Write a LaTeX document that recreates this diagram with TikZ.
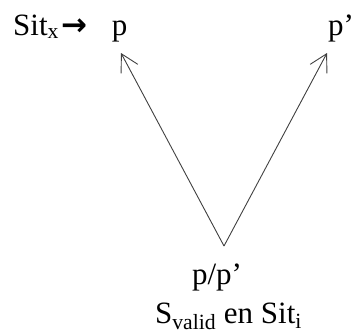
\documentclass[tikz,border=0pt]{standalone}
\usepackage{fontspec}
\setmainfont{Liberation Serif}
\newfontfamily\arrowfont{DejaVu Sans}
\usepackage{tikz}
\usetikzlibrary{arrows.meta,positioning,calc}

\begin{document}
\begin{tikzpicture}[
  x=1pt, y=1pt,
  lbl/.style={inner sep=0pt, font=\fontsize{31}{37}\selectfont},
  vedge/.style={draw=black!75, line width=0.9pt,
    -{Straight Barb[length=17pt, width=19pt, line width=0.9pt]}}
]
\useasboundingbox (0,0) rectangle (355,333);
\node[lbl, anchor=base west] (sitx) at (13,298)
  {Sit\textsubscript{x}\hspace{2pt}{\arrowfont\bfseries →}\hspace{25pt}p};
\node[lbl, anchor=base west] (pp) at (328,298) {p’};
\node[lbl, anchor=base] (ppp) at (217,49) {p/p’};
\node[lbl, anchor=base] (sval) at (228.5,10) {S\textsubscript{valid} en Sit\textsubscript{i}};
\coordinate (apex) at (224,87);
\coordinate (tipl) at (121,280);
\coordinate (tipr) at (327,280);
\draw[vedge] (apex) -- (tipl);
\draw[vedge] (apex) -- (tipr);
\end{tikzpicture}
\end{document}
